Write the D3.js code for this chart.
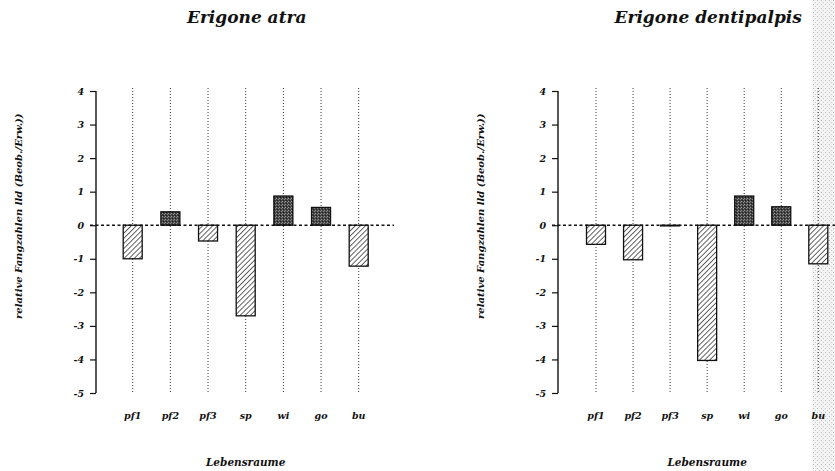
<!DOCTYPE html>
<html>
<head>
<meta charset="utf-8">
<script src="https://cdn.jsdelivr.net/npm/d3@7"></script>
<style>
  body { margin: 0; background: #fff; }
  svg text { font-family: "DejaVu Serif", "Liberation Serif", serif; font-style: italic; font-weight: bold; fill: #111; }
</style>
</head>
<body>
<svg id="chart" width="835" height="471"></svg>
<script>
// habitats (Lebensraeume)
const categories = ['pf1', 'pf2', 'pf3', 'sp', 'wi', 'go', 'bu'];
const yTicks = [4, 3, 2, 1, 0, -1, -2, -3, -4, -5];
const atraValues = [-1.0, 0.4, -0.47, -2.7, 0.87, 0.53, -1.22];
const dentiValues = [-0.57, -1.03, -0.02, -4.03, 0.87, 0.55, -1.15];
const titles = ['Erigone atra', 'Erigone dentipalpis'];

const W = 835, H = 471;
const svg = d3.select('#chart');

// patterns: hatch for negative, stipple for positive
const defs = svg.append('defs');
const hatch = defs.append('pattern').attr('id', 'hatch')
	.attr('patternUnits', 'userSpaceOnUse').attr('width', 3.6).attr('height', 3.6)
	.attr('patternTransform', 'rotate(45)');
hatch.append('rect').attr('width', 3.6).attr('height', 3.6).attr('fill', '#fff');
hatch.append('line').attr('x1', 0).attr('y1', 0).attr('x2', 0).attr('y2', 3.6)
	.attr('stroke', '#111').attr('stroke-width', 1.3);

const stip = defs.append('pattern').attr('id', 'stip')
	.attr('patternUnits', 'userSpaceOnUse').attr('width', 3).attr('height', 3);
stip.append('rect').attr('width', 3).attr('height', 3).attr('fill', '#444');
stip.append('rect').attr('x', 0).attr('y', 0).attr('width', 1).attr('height', 1).attr('fill', '#999');
stip.append('rect').attr('x', 2).attr('y', 1).attr('width', 1).attr('height', 1).attr('fill', '#888');
stip.append('rect').attr('x', 1).attr('y', 2).attr('width', 1).attr('height', 1).attr('fill', '#1c1c1c');

// scan texture at right edge
const scan = defs.append('pattern').attr('id', 'scan')
	.attr('patternUnits', 'userSpaceOnUse').attr('width', 4).attr('height', 4);
scan.append('rect').attr('width', 4).attr('height', 4).attr('fill', '#f4f4f4');
scan.append('rect').attr('x', 1).attr('y', 0).attr('width', 1).attr('height', 1).attr('fill', '#b8b8b8');
scan.append('rect').attr('x', 3).attr('y', 2).attr('width', 1).attr('height', 1).attr('fill', '#c8c8c8');
svg.append('rect').attr('x', 812).attr('y', 0).attr('width', 23).attr('height', H).attr('fill', 'url(#scan)');

function drawPanel(values, title, axisX, firstX, lastX, zeroEnd) {
	const g = svg.append('g');
	const y = d3.scaleLinear().domain([-5, 4]).range([393, 91]);
	const x = d3.scalePoint().domain(categories).range([firstX, lastX]);
	const barW = 19;

	// dotted verticals
	g.selectAll('line.grid').data(categories).enter().append('line')
		.attr('class', 'grid')
		.attr('x1', d => x(d)).attr('x2', d => x(d))
		.attr('y1', y(4) - 3).attr('y2', y(-5) + 1)
		.attr('stroke', '#222').attr('stroke-width', 0.9)
		.attr('stroke-dasharray', '1 2');

	// bars
	g.selectAll('rect.bar').data(values).enter().append('rect')
		.attr('class', 'bar')
		.attr('x', (d, i) => x(categories[i]) - barW / 2)
		.attr('width', barW)
		.attr('y', d => y(Math.max(0, d)))
		.attr('height', d => Math.abs(y(d) - y(0)))
		.attr('fill', d => d < 0 ? 'url(#hatch)' : 'url(#stip)')
		.attr('stroke', '#111').attr('stroke-width', 1.3);

	// zero line
	g.append('line')
		.attr('x1', axisX - 6).attr('x2', zeroEnd)
		.attr('y1', y(0)).attr('y2', y(0))
		.attr('stroke', '#111').attr('stroke-width', 1.6)
		.attr('stroke-dasharray', '3 2.5');

	// y axis
	const axis = d3.axisLeft(y).tickValues(yTicks).tickSize(6).tickPadding(6)
		.tickFormat(d => d < 0 ? '-' + Math.abs(d) : d);
	const ax = g.append('g').attr('transform', `translate(${axisX},0)`).call(axis);
	ax.select('.domain').attr('stroke', '#111').attr('stroke-width', 1.4)
		.attr('d', `M0,${y(4)}V${y(-5)}`);
	ax.selectAll('.tick line').attr('stroke', '#111').attr('stroke-width', 1.2);
	ax.selectAll('.tick text').attr('font-size', 9.5).attr('fill', '#111')
		.attr('font-family', '"DejaVu Serif", serif');

	// category labels
	g.selectAll('text.cat').data(categories).enter().append('text')
		.attr('class', 'cat')
		.attr('x', d => x(d)).attr('y', 419)
		.attr('text-anchor', 'middle').attr('font-size', 9.5)
		.text(d => d);

	// titles
	g.append('text').attr('x', x('sp') + 1).attr('y', 23)
		.attr('text-anchor', 'middle').attr('font-size', 17)
		.text(title);
	g.append('text').attr('x', x('sp')).attr('y', 466)
		.attr('text-anchor', 'middle').attr('font-size', 10.5)
		.text('Lebensraume');
	g.append('text')
		.attr('transform', `translate(${axisX - 74},${y(0.27)}) rotate(-90)`)
		.attr('text-anchor', 'middle').attr('font-size', 10)
		.text('relative Fangzahlen lld (Beob./Erw.))');
}

drawPanel(atraValues, titles[0], 96, 132.7, 358.7, 394);
drawPanel(dentiValues, titles[1], 558, 596, 818.3, 835);
</script>
</body>
</html>
